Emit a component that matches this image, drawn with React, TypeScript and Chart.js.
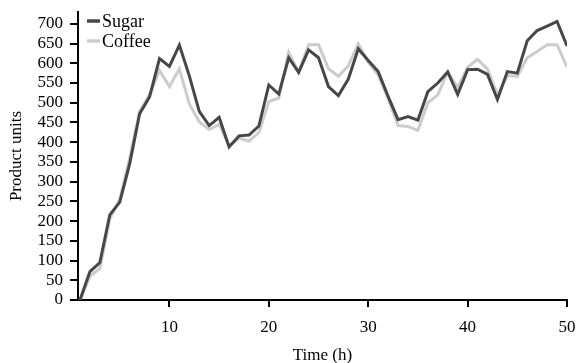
import React, { useEffect, useRef } from "react";
import { Chart, registerables } from "chart.js";

Chart.register(...registerables);

const TIME = [1, 2, 3, 4, 5, 6, 7, 8, 9, 10, 11, 12, 13, 14, 15, 16, 17, 18, 19, 20, 21, 22, 23, 24, 25, 26, 27, 28, 29, 30, 31, 32, 33, 34, 35, 36, 37, 38, 39, 40, 41, 42, 43, 44, 45, 46, 47, 48, 49, 50];
const SUGAR = [0, 72, 95, 216, 248, 345, 472, 515, 612, 592, 646, 568, 478, 442, 463, 388, 416, 418, 441, 545, 522, 614, 577, 634, 614, 541, 518, 560, 637, 607, 579, 516, 457, 465, 456, 528, 550, 578, 521, 584, 585, 572, 508, 579, 575, 657, 683, 694, 706, 644];
const COFFEE = [0, 60, 80, 205, 255, 360, 478, 520, 582, 541, 586, 497, 452, 432, 445, 391, 410, 403, 424, 503, 512, 628, 577, 647, 647, 586, 567, 594, 649, 603, 571, 510, 442, 440, 430, 500, 520, 578, 538, 590, 610, 585, 520, 569, 567, 614, 630, 647, 647, 590];
const X_TICKS = [10, 20, 30, 40, 50];
const Y_TICKS = [0, 50, 100, 150, 200, 250, 300, 350, 400, 450, 500, 550, 600, 650, 700];
const SERIES_NAMES = ["Sugar", "Coffee"];
const SERIES_COLORS = ["#474747", "#cccccc"];

const FONT = "'Liberation Serif', 'Times New Roman', serif";

const legendPlugin = {
  id: "insideLegend",
  afterDraw(chart: any) {
    const ctx = chart.ctx;
    const area = chart.chartArea;
    ctx.save();
    ctx.font = `18px ${FONT}`;
    ctx.textBaseline = "middle";
    ctx.fillStyle = "#000";
    SERIES_NAMES.forEach((name, i) => {
      const y = area.top + 9 + i * 20;
      const x0 = area.left + 9;
      ctx.strokeStyle = SERIES_COLORS[i];
      ctx.lineWidth = 3.5;
      ctx.beginPath();
      ctx.moveTo(x0, y);
      ctx.lineTo(x0 + 13, y);
      ctx.stroke();
      ctx.fillText(name, x0 + 15, y + 1);
    });
    ctx.restore();
  },
};

export default function App() {
  const ref = useRef<HTMLCanvasElement | null>(null);
  useEffect(() => {
    document.body.style.margin = "0";
    const canvas = ref.current!;
    const chart = new Chart(canvas, {
      type: "line",
      data: {
        datasets: SERIES_NAMES.map((name, i) => ({
          label: name,
          data: TIME.map((t, j) => ({ x: t, y: (i === 0 ? SUGAR : COFFEE)[j] })),
          borderColor: SERIES_COLORS[i],
          backgroundColor: SERIES_COLORS[i],
          borderWidth: 3,
          pointRadius: 0,
          tension: 0,
          fill: false,
        })),
      },
      options: {
        responsive: false,
        animation: false,
        events: [],
        layout: { padding: { top: 12, right: 11, left: 0, bottom: 0 } },
        plugins: { legend: { display: false }, tooltip: { enabled: false } },
        scales: {
          x: {
            type: "linear",
            min: 0.8,
            max: 50,
            afterBuildTicks: (s: any) => {
              s.ticks = X_TICKS.map((v) => ({ value: v }));
            },
            afterFit: (s: any) => {
              s.height = 63;
              s.paddingRight = 0;
              s.paddingLeft = 0;
            },
            grid: { drawOnChartArea: false, drawTicks: true, tickLength: 7, color: "#000", lineWidth: 2 },
            border: { display: true, color: "#000", width: 2 },
            ticks: { color: "#000", font: { family: FONT, size: 17 }, padding: 10, maxRotation: 0, autoSkip: false },
            title: { display: true, text: "Time (h)", color: "#000", font: { family: FONT, size: 17 }, padding: { top: 0, bottom: -3 } },
          },
          y: {
            type: "linear",
            min: 0,
            max: 730,
            afterBuildTicks: (s: any) => {
              s.ticks = Y_TICKS.map((v) => ({ value: v }));
            },
            afterFit: (s: any) => {
              s.width = 78;
              s.paddingTop = 0;
              s.paddingBottom = 0;
            },
            grid: { drawOnChartArea: false, drawTicks: true, tickLength: 8, color: "#000", lineWidth: 2 },
            border: { display: true, color: "#000", width: 2 },
            ticks: { color: "#000", font: { family: FONT, size: 17 }, padding: 7, autoSkip: false },
            title: { display: true, text: "Product units", color: "#000", font: { family: FONT, size: 17 }, padding: { top: 6, bottom: 0 } },
          },
        },
      },
      plugins: [legendPlugin],
    } as any);
    return () => chart.destroy();
  }, []);
  return <canvas ref={ref} width={578} height={363} style={{ display: "block" }} />;
}
